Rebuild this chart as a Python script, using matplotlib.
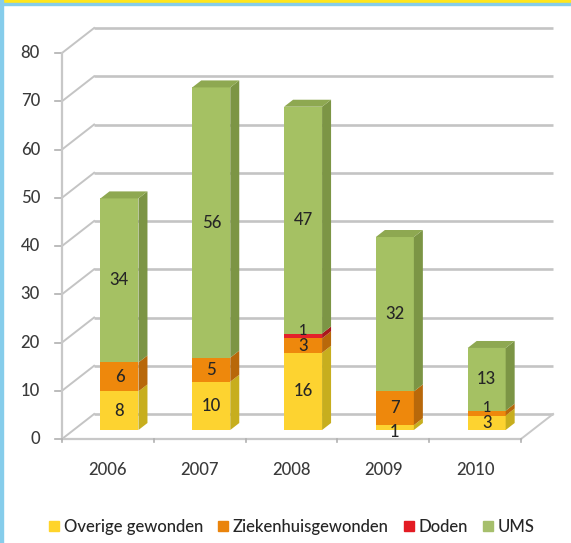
# Gestapelde 3D-staafgrafiek (Excel-stijl) nagebouwd met matplotlib
import matplotlib
matplotlib.use("Agg")
import matplotlib.pyplot as plt
from matplotlib.patches import Polygon, Rectangle

years = ['2006', '2007', '2008', '2009', '2010']
overige = [8, 10, 16, 1, 3]
ziekenhuis = [6, 5, 3, 7, 1]
doden = [0, 0, 1, 0, 0]
ums = [34, 56, 47, 32, 13]
series_names = ['Overige gewonden', 'Ziekenhuisgewonden', 'Doden', 'UMS']
y_ticks = [0, 10, 20, 30, 40, 50, 60, 70, 80]

# front / side / top colours per series
front_cols = ['#FDD330', '#EE880C', '#E3222A', '#A5C163']
side_cols = ['#C7AE1E', '#B8680A', '#A8181C', '#7C9545']
top_cols = ['#E9C323', '#D27908', '#C41D22', '#8EA851']
legend_cols = ['#FFD42A', '#EA840C', '#E31B23', '#A6BF6C']

W, H = 571, 543
X0, Y0 = 62, 439          # pixel of category 0 / value 0
CAT_PX, VAL_PX = 91.8, 4.825
DX, DY = 0.35, 5.18       # full depth of the floor in data units
F0, F1 = 0.36, 0.64       # bar front / back depth fractions
BAR_W = 0.414

plt.rcParams['font.family'] = ['Lato', 'DejaVu Sans']
plt.rcParams['font.weight'] = 'medium'
fig = plt.figure(figsize=(W / 100, H / 100), dpi=100)
fig.patch.set_facecolor('white')
ax = fig.add_axes([0, 0, 1, 1])
ax.set_xlim(-X0 / CAT_PX, (W - X0) / CAT_PX)
ax.set_ylim((Y0 - H) / VAL_PX, Y0 / VAL_PX)
ax.axis('off')

grid_col = '#C4C4C4'
n = len(years)

# back wall gridlines + left wall diagonals + y ticks
for v in y_ticks:
    ax.plot([DX, n + DX], [v + DY, v + DY], color=grid_col, lw=1.9,
            solid_capstyle='butt', zorder=1)
    ax.plot([0, DX], [v, v + DY], color=grid_col, lw=1.4, zorder=1)
    ax.plot([-0.08, 0], [v, v], color='#B0B0B0', lw=1.2, zorder=1)
    ax.text(-0.24, v, str(v), ha='right', va='center', fontsize=12,
            color='#3A3A3A')

# vertical axis and floor
ax.plot([0, 0], [0, 80], color='#C8C8C8', lw=1.6, zorder=1)
ax.plot([0, n], [0, 0], color='#C8C8C8', lw=1.6, zorder=1)
ax.plot([n, n + DX], [0, DY], color='#C8C8C8', lw=1.4, zorder=1)
for i in range(n + 1):
    ax.plot([i, i], [0, -0.7], color='#B0B0B0', lw=1.2, zorder=1)

# bars
stacks = [overige, ziekenhuis, doden, ums]
for i in range(n):
    xl = i + (1 - BAR_W) / 2
    xr = xl + BAR_W
    bottom = 0
    vals = [s[i] for s in stacks]
    last = max(k for k, v in enumerate(vals) if v > 0)
    for k, v in enumerate(vals):
        if v == 0:
            continue
        t = bottom + v
        ax.bar(xl + F0 * DX, v, width=BAR_W, bottom=bottom + F0 * DY,
               align='edge', color=front_cols[k], zorder=3 + i)
        side = [(xr + F0 * DX, bottom + F0 * DY), (xr + F1 * DX, bottom + F1 * DY),
                (xr + F1 * DX, t + F1 * DY), (xr + F0 * DX, t + F0 * DY)]
        ax.add_patch(Polygon(side, closed=True, color=side_cols[k], lw=0,
                             zorder=3 + i))
        if k == last:
            top = [(xl + F0 * DX, t + F0 * DY), (xr + F0 * DX, t + F0 * DY),
                   (xr + F1 * DX, t + F1 * DY), (xl + F1 * DX, t + F1 * DY)]
            ax.add_patch(Polygon(top, closed=True, color=top_cols[k], lw=0,
                                 zorder=3 + i))
        # thin segments: smaller labels pushed a little apart
        ly = bottom + v / 2 + F0 * DY
        fs = 12
        if v == 1 and k > 0:
            ly += 1.1
            fs = 10.5
        elif v == 1 and k == 0:
            ly -= 1.0
        ax.text(xl + F0 * DX + BAR_W / 2, ly, str(v),
                ha='center', va='center', fontsize=fs, color='#262626',
                zorder=20)
        bottom = t

# category labels
for i, yr in enumerate(years):
    ax.text(i + 0.5, (Y0 - 470) / VAL_PX, yr, ha='center', va='center',
            fontsize=12, color='#3A3A3A')

# legend
handles = [Rectangle((0, 0), 1, 1, color=c) for c in legend_cols]
fig.legend(handles, series_names, loc='center',
           bbox_to_anchor=(0.511, 1 - 527 / H), ncol=4, frameon=False,
           fontsize=12, handlelength=0.6, handleheight=0.6,
           handletextpad=0.3, columnspacing=0.9, labelcolor='#262626')

# yellow header strip and blue frame
fig.patches.append(Rectangle((0, 1 - 3.5 / H), 1, 3.5 / H,
                             transform=fig.transFigure, color='#FFE61E',
                             zorder=0))
fig.patches.append(Rectangle((0, 1 - 5 / H), 1, 1.5 / H,
                             transform=fig.transFigure, color='#86CDEB',
                             zorder=0))
fig.patches.append(Rectangle((0, 0), 2.5 / W, 1, transform=fig.transFigure,
                             color='#86CDEB', zorder=0))

fig.savefig('out.png', dpi=100, facecolor='white')
